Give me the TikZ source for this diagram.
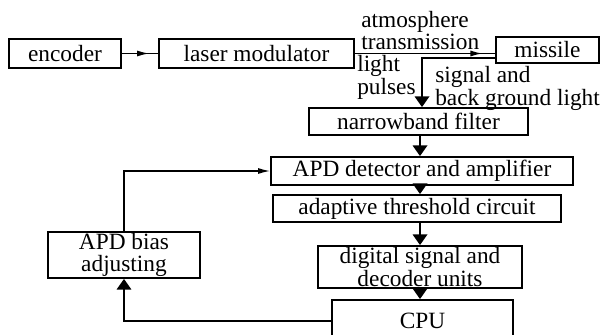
\documentclass[tikz,border=0pt]{standalone}
\usepackage{fontspec}
\setmainfont{Liberation Serif}
\usetikzlibrary{arrows.meta,decorations.markings}

\tikzset{
  blk/.style={draw, line width=1.4pt, inner sep=0pt, align=center},
  lnk/.style={line width=1pt},
  tri/.style={lnk, -{Triangle[length=8pt,width=11pt]}},
  dartend/.style={lnk, -{Latex[length=9pt,width=4.5pt]}},
  dart/.style={lnk, postaction={decorate},
    decoration={markings, mark=at position #1 with {\arrow{Latex[length=9pt,width=4.5pt]}}}},
  lbl/.style={inner sep=0pt, align=left, anchor=north west}
}

\begin{document}
\begin{tikzpicture}[x=0.75pt,y=0.75pt,yscale=-1,xscale=1,font=\fontsize{17.5}{13.5}\selectfont]
	\clip (0,0) rectangle (603,335);
	
	% transmitter side
	\node[blk, minimum width=84pt, minimum height=21.75pt] (enc) at (65,53.5) {encoder};
	\node[blk, minimum width=146.25pt, minimum height=21.75pt] (laser) at (256.5,53.5) {laser modulator};
	\node[blk, minimum width=77.25pt, minimum height=19.5pt] (missile) at (547.5,50) {missile};
	
	% receiver chain
	\node[blk, minimum width=164.25pt, minimum height=20.25pt] (nbf) at (418.5,121.5) {narrowband filter};
	\node[blk, minimum width=226.5pt, minimum height=21pt] (apd) at (422,171) {APD detector and amplifier};
	\node[blk, minimum width=216pt, minimum height=20.25pt] (thr) at (417,208.5) {adaptive threshold circuit};
	\node[blk, minimum width=153pt, minimum height=31.5pt] (dsp) at (420,267) {digital signal and\\decoder units};
	\node[blk, minimum width=135.75pt, minimum height=31.5pt] (cpu) at (422.5,321) {CPU};
	\node[blk, minimum width=114pt, minimum height=34.5pt] (bias) at (124,255) {APD bias\\[3pt]adjusting};
	
	% labels
	\node[lbl] (atm) at (361,11) {atmosphere\\transmission};
	\node[lbl] (pls) at (357,55) {light\\pulses};
	\node[lbl] (sig) at (435,66) {signal and\\back ground light};
	
	% connectors
	\coordinate (rx) at (422,58);
	\coordinate (ax) at (420,0);
	\draw[dart=0.75] (enc) -- (laser);
	\draw[dart=0.91] (laser.east) -- (laser.east -| missile.west);
	\draw[tri] (missile.west |- rx) -- (rx) -- (rx |- nbf.north);
	\draw[tri] (nbf.south -| ax) -- (apd.north -| ax);
	\draw[tri] (apd.south -| ax) -- (thr.north -| ax);
	\draw[tri] (thr.south -| ax) -- (dsp.north -| ax);
	\draw[tri] (dsp.south -| ax) -- (cpu.north -| ax);
	\draw[dartend] (bias.north) -- (bias.north |- apd.west) -- (apd.west);
	\draw[tri] (cpu.west) -- (cpu.west -| bias.south) -- (bias.south);
	
\end{tikzpicture}
\end{document}
